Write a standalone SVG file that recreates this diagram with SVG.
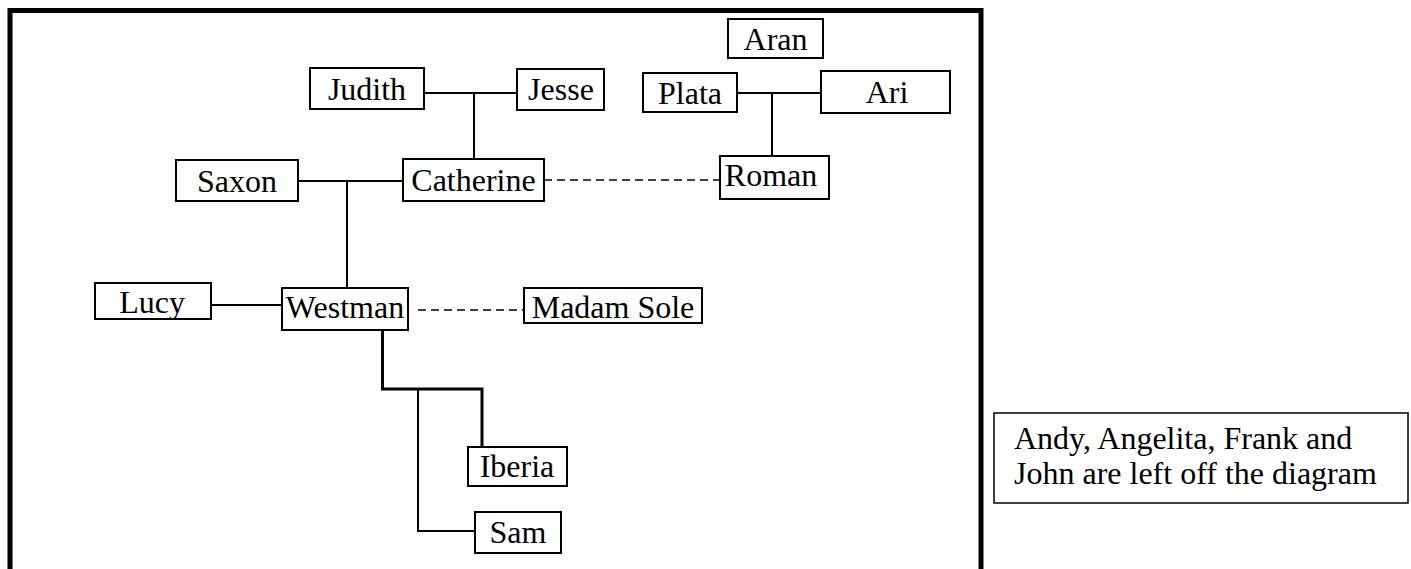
<svg xmlns="http://www.w3.org/2000/svg" width="1411" height="569" viewBox="0 0 1411 569">
<style>
.box{fill:#fff;stroke:#000;stroke-width:2}
.t{font-family:"Liberation Serif","Times New Roman",serif;font-size:32px;fill:#000;text-anchor:middle}
.tl{font-family:"Liberation Serif","Times New Roman",serif;font-size:32px;fill:#000}
.c{fill:none;stroke:#000;stroke-width:2}
.d{fill:none;stroke:#000;stroke-width:1.6;stroke-dasharray:8,5}
.k{fill:none;stroke:#000;stroke-width:3}
</style>
<rect width="1411" height="569" fill="#fff"/>
<rect id="frame" x="10" y="10.5" width="971" height="600" fill="none" stroke="#000" stroke-width="5"/>
<g id="connectors">
<path class="c" d="M424 93H517M474 93V159"/>
<path class="c" d="M298 181H403M347 181V288"/>
<path class="c" d="M737 93H821M772 93V156"/>
<path class="d" d="M544 180H720"/>
<path class="c" d="M211 305H282"/>
<path class="d" d="M418 310H524"/>
<path class="k" d="M382.5 330V389H482V447"/>
<path class="c" d="M418 389V531H475"/>
</g>
<g id="judith"><rect class="box" x="310" y="68" width="114" height="41"/><text class="t" x="367" y="100">Judith</text></g>
<g id="jesse"><rect class="box" x="517" y="69" width="87" height="41"/><text class="t" x="561" y="100">Jesse</text></g>
<g id="aran"><rect class="box" x="728" y="19" width="95" height="39"/><text class="t" x="775.5" y="50">Aran</text></g>
<g id="plata"><rect class="box" x="643" y="73" width="94" height="39"/><text class="t" x="690" y="104">Plata</text></g>
<g id="ari"><rect class="box" x="821" y="71" width="129" height="42"/><text class="t" x="887" y="103">Ari</text></g>
<g id="saxon"><rect class="box" x="176" y="160" width="122" height="41"/><text class="t" x="237" y="192">Saxon</text></g>
<g id="catherine"><rect class="box" x="403" y="159" width="141" height="42"/><text class="t" x="473.5" y="191">Catherine</text></g>
<g id="roman"><rect class="box" x="720" y="156" width="109" height="43"/><text class="t" x="771" y="186">Roman</text></g>
<g id="lucy"><rect class="box" x="95" y="283" width="116" height="36"/><text class="t" x="152" y="313">Lucy</text></g>
<g id="westman"><rect class="box" x="282" y="288" width="126" height="42"/><text class="t" x="345" y="318">Westman</text></g>
<g id="madam-sole"><rect class="box" x="524" y="288" width="178" height="35"/><text class="t" x="613" y="318">Madam Sole</text></g>
<g id="iberia"><rect class="box" x="468" y="447" width="99" height="39"/><text class="t" x="517" y="477">Iberia</text></g>
<g id="sam"><rect class="box" x="475" y="512" width="86" height="41"/><text class="t" x="518" y="543">Sam</text></g>
<g id="note"><rect x="994" y="413" width="414" height="90" fill="#fff" stroke="#000" stroke-width="1.5"/><text class="tl" x="1014" y="449">Andy, Angelita, Frank and</text><text class="tl" x="1014" y="484">John are left off the diagram</text></g>
</svg>
